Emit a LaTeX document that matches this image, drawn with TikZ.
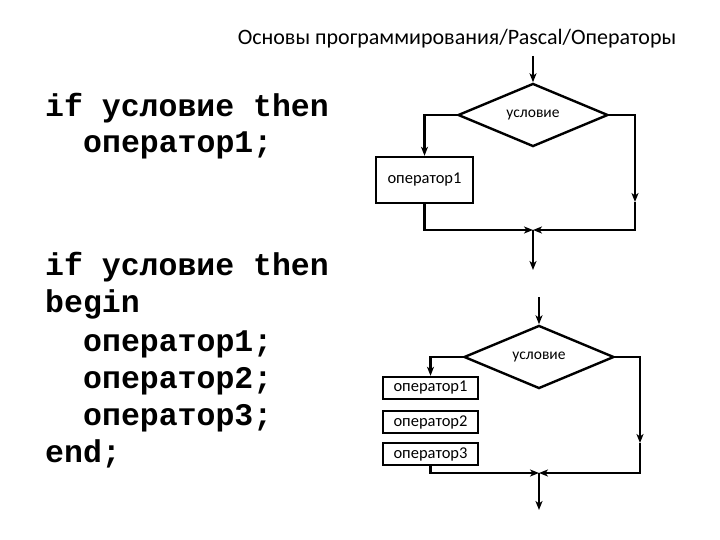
\documentclass[tikz,border=0pt]{standalone}
\usepackage{fontspec}
\setmainfont{Carlito}
\setmonofont{Liberation Mono}
\usetikzlibrary{shapes.geometric, arrows.meta, positioning}

\begin{document}
\begin{tikzpicture}[x=1pt, y=-1pt,
  flow/.style={line width=2.4pt, -{Stealth[length=9pt, width=7pt, inset=2.5pt]}},
  cond/.style={draw, line width=2.4pt, shape=diamond, minimum width=150pt, minimum height=40pt, inner sep=0pt, font=\fontsize{15.5}{15.5}\selectfont},
  opbox/.style={draw, line width=2.4pt, inner sep=0pt, font=\fontsize{16.5}{16.5}\selectfont},
  code/.style={anchor=base west, inner sep=0pt, font=\fontsize{31.5}{37}\selectfont\ttfamily\bfseries}]
\useasboundingbox (0,0) rectangle (720,540);

\node[anchor=base, inner sep=0pt, font=\fontsize{22}{22}\selectfont] (title) at (457,45) {Основы программирования/Pascal/Операторы};

% Pascal text
\node[code] (ifA) at (45,117) {if условие then};
\node[code] (opA) at (83,153) {оператор1;};

\node[code] (ifB) at (45,275) {if условие then};
\node[code] (beginB) at (45,312) {begin};
\node[code] (opB1) at (83,351) {оператор1;};
\node[code] (opB2) at (83,388) {оператор2;};
\node[code] (opB3) at (83,425) {оператор3;};
\node[code] (endB) at (45,462) {end;};

% first scheme
\coordinate (inA) at (533,56);
\node[cond] (condA) at (533,115) {условие};
\node[opbox, minimum width=97pt, minimum height=46pt] (boxA) at (424.5,180) {оператор1};
\coordinate (rightA) at (635,202);
\coordinate (joinA) at (533,230);
\coordinate (outA) at (533,270);
\draw[flow] (inA) -- (condA.north);
\draw[flow] (condA.west) -| (boxA.north);
\draw[flow] (condA.east) -| (rightA);
\draw[flow] (rightA) |- (joinA);
\draw[flow] (boxA.south) |- (joinA);
\draw[flow] (joinA) -- (outA);

% second scheme
\coordinate (inB) at (539,297);
\node[cond] (condB) at (539,357) {условие};
\node[opbox, minimum width=95pt, minimum height=22pt] (boxB1) at (430.5,388) {оператор1};
\node[opbox, minimum width=95pt, minimum height=22pt] (boxB2) at (430.5,422) {оператор2};
\node[opbox, minimum width=95pt, minimum height=22pt] (boxB3) at (430.5,454) {оператор3};
\coordinate (rightB) at (640,443);
\coordinate (joinB) at (539,473);
\coordinate (outB) at (539,510);
\draw[flow] (inB) -- (condB.north);
\draw[flow] (condB.west) -| (boxB1.north);
\draw[flow] (condB.east) -| (rightB);
\draw[flow] (rightB) |- (joinB);
\draw[flow] (boxB3.south) |- (joinB);
\draw[flow] (joinB) -- (outB);

\end{tikzpicture}
\end{document}
